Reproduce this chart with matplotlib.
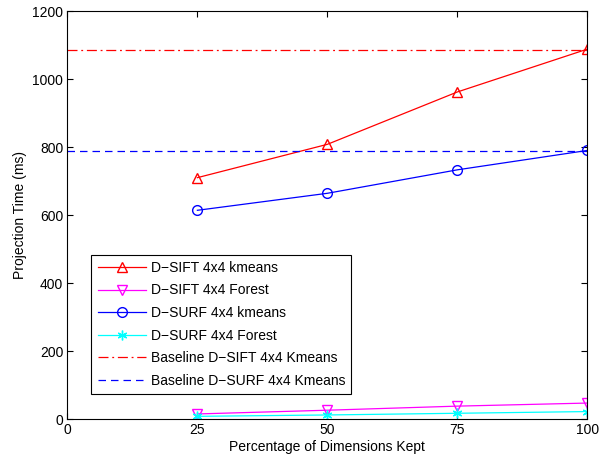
import matplotlib
matplotlib.use("Agg")
import matplotlib.pyplot as plt

# data
dims_kept = [25, 50, 75, 100]
sift_kmeans = [710, 808, 962, 1088]
sift_forest = [15, 26, 38, 47]
surf_kmeans = [614, 664, 733, 790]
surf_forest = [8, 12, 17, 22]
baseline_sift = 1085
baseline_surf = 787

plt.rcParams.update({"font.family": "Liberation Sans", "font.size": 10})

fig = plt.figure(figsize=(6.13, 4.61), dpi=100)
ax = fig.add_axes([0.110, 0.091, 0.848, 0.885])

ax.plot(dims_kept, sift_kmeans, color="red", marker="^", mfc="none", ms=7, lw=0.9,
        label="D\u2212SIFT 4x4 kmeans")
ax.plot(dims_kept, sift_forest, color="magenta", marker="v", mfc="none", ms=7, lw=0.9,
        label="D\u2212SIFT 4x4 Forest")
ax.plot(dims_kept, surf_kmeans, color="blue", marker="o", mfc="none", ms=7, lw=0.9,
        label="D\u2212SURF 4x4 kmeans")
ax.plot(dims_kept, surf_forest, color="cyan", marker=(6, 2, 0), ms=7, lw=0.9, mew=1.0,
        label="D\u2212SURF 4x4 Forest")
ax.axhline(baseline_sift, color="red", ls=(0, (8, 3, 1.5, 3)), lw=0.9,
           label="Baseline D\u2212SIFT 4x4 Kmeans")
ax.axhline(baseline_surf, color="blue", ls=(0, (6, 4)), lw=0.9,
           label="Baseline D\u2212SURF 4x4 Kmeans")

ax.set_xlim(0, 100)
ax.set_ylim(0, 1200)
ax.set_xticks([0, 25, 50, 75, 100])
ax.set_yticks(range(0, 1201, 200))
ax.tick_params(direction="in", top=True, right=True, length=4, labelsize=10, pad=3)
ax.set_xlabel("Percentage of Dimensions Kept", fontsize=10, labelpad=2)
ax.set_ylabel("Projection Time (ms)", fontsize=10)
for spine in ax.spines.values():
    spine.set_linewidth(0.8)

leg = ax.legend(loc="lower left", bbox_to_anchor=(0.046, 0.061), fancybox=False,
                edgecolor="black", framealpha=1, fontsize=10, handlelength=3.45,
                handletextpad=0.36, labelspacing=0.62, borderpad=0.45,
                borderaxespad=0)
leg.get_frame().set_linewidth(0.8)

fig.savefig("out.png", dpi=100, facecolor="white")
